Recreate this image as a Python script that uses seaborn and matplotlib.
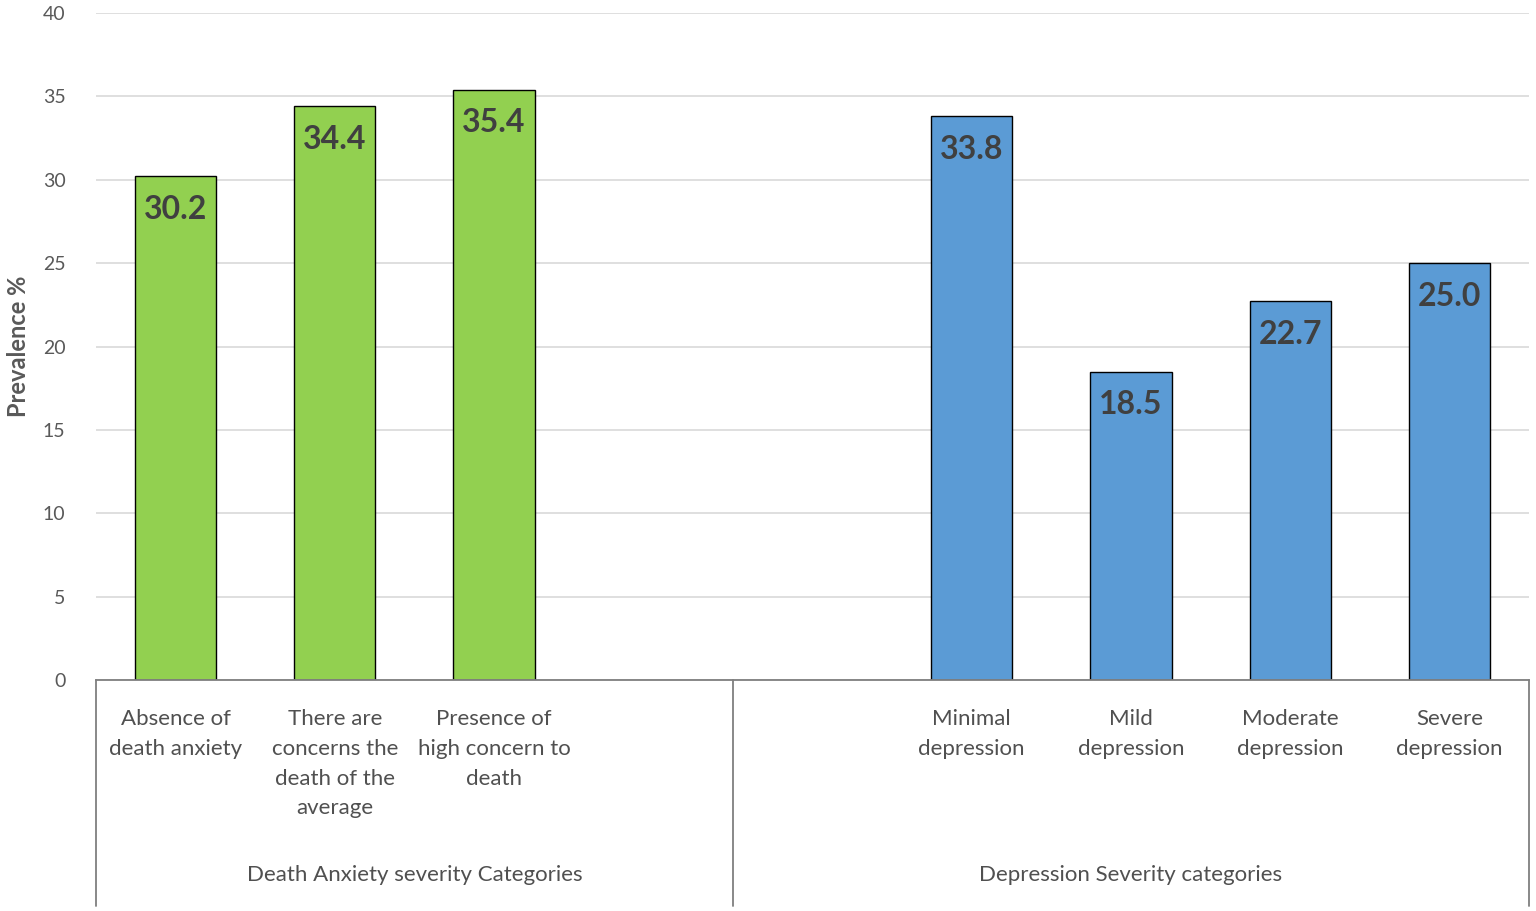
import pandas as pd
import matplotlib.pyplot as plt
import seaborn as sns

# Data
anxiety_labels = ["Absence of\ndeath anxiety",
                  "There are\nconcerns the\ndeath of the\naverage",
                  "Presence of\nhigh concern to\ndeath"]
anxiety_values = [30.2, 34.4, 35.4]
depression_labels = ["Minimal\ndepression", "Mild\ndepression",
                     "Moderate\ndepression", "Severe\ndepression"]
depression_values = [33.8, 18.5, 22.7, 25.0]
group_names = ["Death Anxiety severity Categories", "Depression Severity categories"]
y_ticks = [0, 5, 10, 15, 20, 25, 30, 35, 40]

sns.set_theme(style="white")
plt.rcParams['font.family'] = ['Lato', 'DejaVu Sans']

df = pd.DataFrame({
    "category": anxiety_labels + depression_labels,
    "value": anxiety_values + depression_values,
    "group": [group_names[0]] * len(anxiety_labels) + [group_names[1]] * len(depression_labels),
})
# two empty slots between the groups, as in the original Excel layout
order = anxiety_labels + ["_gap1", "_gap2"] + depression_labels

fig = plt.figure(figsize=(15.36, 9.11), dpi=100)
ax = fig.add_axes([96 / 1536, 1 - 680 / 911, (1529 - 96) / 1536, (680 - 13) / 911])

sns.barplot(data=df, x="category", y="value", hue="group", order=order,
            palette={group_names[0]: "#92D050", group_names[1]: "#5B9BD5"},
            saturation=1, dodge=False, width=0.51, edgecolor="black", linewidth=1.0,
            legend=False, ax=ax)

ax.set_xlim(-0.5, len(order) - 0.5)
ax.set_ylim(0, 40)
ax.set_yticks(y_ticks)
ax.yaxis.grid(True, color="#d9d9d9", linewidth=1.2)
ax.set_axisbelow(True)
ax.tick_params(axis="y", length=0, pad=22, labelsize=14, labelcolor="#595959")
ax.set_xticks([])
ax.set_xlabel("")
ax.set_ylabel("Prevalence %", fontsize=17, fontweight="bold", color="#595959", labelpad=9)

for side in ["left", "right", "top"]:
    ax.spines[side].set_visible(False)
ax.spines["bottom"].set_color("#7f7f7f")
ax.spines["bottom"].set_linewidth(1.3)

# value labels inside the bar tops
for i, cat in enumerate(order):
    row = df[df["category"] == cat]
    if row.empty:
        continue
    v = row["value"].iloc[0]
    ax.annotate(f"{v:.1f}", xy=(i, v), xytext=(0, -33), textcoords="offset pixels",
                ha="center", va="center", fontsize=23, fontweight="bold", color="#404040")

# category labels below the axis
trans = ax.get_xaxis_transform()
for i, cat in enumerate(order):
    if cat.startswith("_gap"):
        continue
    ax.text(i, -0.044, cat, transform=trans, ha="center", va="top",
            fontsize=16, color="#505050", linespacing=1.6)

# group separators and group names
n1 = len(anxiety_labels) + 1
for xpos in [-0.5, n1 - 0.5, len(order) - 0.5]:
    ax.plot([xpos, xpos], [0, -0.339], transform=trans, color="#7f7f7f",
            linewidth=1.3, clip_on=False)
ax.text((-0.5 + n1 - 0.5) / 2, -0.293, group_names[0], transform=trans,
        ha="center", va="center", fontsize=16, color="#505050")
ax.text((n1 - 0.5 + len(order) - 0.5) / 2, -0.293, group_names[1], transform=trans,
        ha="center", va="center", fontsize=16, color="#505050")

fig.savefig("out.png", dpi=100)
